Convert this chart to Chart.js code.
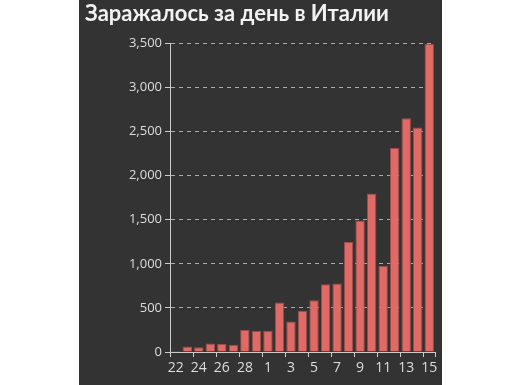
<!DOCTYPE html>
<html>
<head>
<meta charset="utf-8">
<script src="https://cdn.jsdelivr.net/npm/chart.js@4/dist/chart.umd.min.js"></script>
<style>
  html, body { margin: 0; padding: 0; background: #fff; }
  #wrap { position: absolute; left: 79px; top: 0; width: 363px; height: 385px; background: #333333; }
</style>
</head>
<body>
<div id="wrap"><canvas id="chart" width="363" height="385"></canvas></div>
<script>
// days: 22 Feb .. 15 Mar
const days = ["22", "23", "24", "25", "26", "27", "28", "29",
  "1", "2", "3", "4", "5", "6", "7", "8", "9", "10", "11", "12", "13", "14", "15"];
const newCases = [14, 62, 53, 97, 93, 78, 250, 238, 240, 561, 347, 466, 587,
  769, 778, 1247, 1492, 1797, 977, 2313, 2651, 2547, 3497];
const yTicks = [0, 500, 1000, 1500, 2000, 2500, 3000, 3500];

const textFont = "'Open Sans', 'Noto Sans', sans-serif";

const ctx = document.getElementById("chart").getContext("2d");
const chart = new Chart(ctx, {
  type: "bar",
  data: {
    labels: days,
    datasets: [{
      data: newCases,
      backgroundColor: "#e06a66",
      borderColor: "#9e4c4a",
      borderWidth: 1,
      barPercentage: 0.82,
      categoryPercentage: 1.0,
    }],
  },
  options: {
    responsive: false,
    animation: false,
    layout: { padding: { left: 6, right: 7, top: 0, bottom: 0 } },
    plugins: {
      legend: { display: false },
      tooltip: { enabled: false },
      title: {
        display: true,
        text: "Заражалось за день в Италии",
        align: "start",
        color: "#f2f2f2",
        font: { family: "Lato, 'Open Sans', sans-serif", size: 22, weight: "bold" },
        padding: { top: 1, bottom: 16 },
      },
    },
    scales: {
      x: {
        offset: true,
        grid: {
          offset: true,
          drawOnChartArea: false,
          tickLength: 5,
          color: (c) => (c.index === undefined || c.index % 2 === 0) ? "#cccccc" : "rgba(0,0,0,0)",
        },
        border: { color: "#cccccc", width: 1 },
        ticks: {
          autoSkip: false,
          maxRotation: 0,
          color: "#dddddd",
          padding: 3,
          font: { family: textFont, size: 14 },
          callback: (v, i) => (i % 2 === 0 ? days[i] : ""),
        },
        afterFit: (scale) => { scale.height = 33; },
      },
      y: {
        min: 0,
        max: 3500,
        afterBuildTicks: (scale) => { scale.ticks = yTicks.map((v) => ({ value: v })); },
        grid: {
          color: (c) => (c.tick && c.tick.value === 0) ? "rgba(0,0,0,0)" : "rgba(255,255,255,0.6)",
          tickColor: "#cccccc",
          tickLength: 5,
          tickBorderDash: [],
        },
        border: { color: "#cccccc", width: 1, dash: [4, 4] },
        ticks: {
          color: "#dddddd",
          padding: 3,
          font: { family: textFont, size: 13 },
        },
        afterFit: (scale) => { scale.width = 85; },
      },
    },
  },
});
</script>
</body>
</html>
